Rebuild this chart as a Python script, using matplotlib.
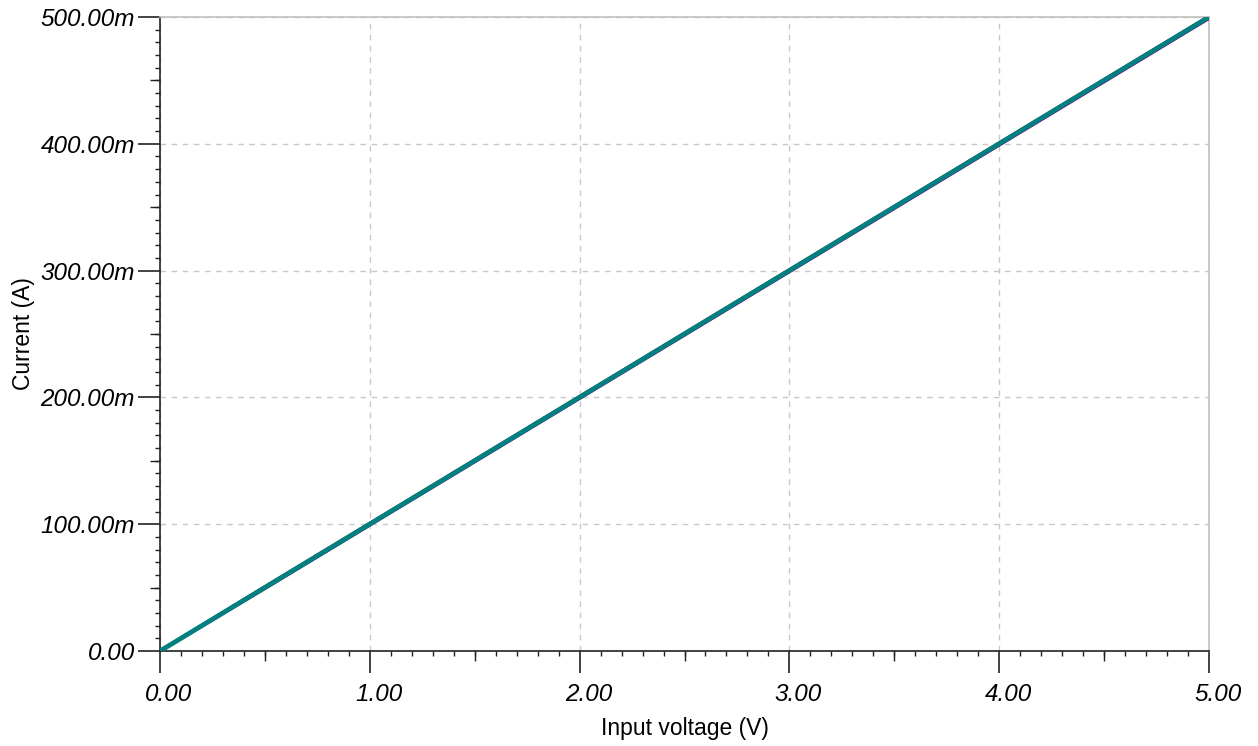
import matplotlib
matplotlib.use("Agg")
import matplotlib.pyplot as plt
from matplotlib.ticker import MultipleLocator, FuncFormatter, FixedLocator
from matplotlib.transforms import ScaledTranslation

# Data (input voltage in V, current in A)
voltage = [0.0, 0.5, 1.0, 1.5, 2.0, 2.5, 3.0, 3.5, 4.0, 4.5, 5.0]
current_red = [0.0, 0.0506, 0.1006, 0.1506, 0.2006, 0.2506, 0.3006, 0.3506, 0.4006, 0.4506, 0.5005]
current_olive = [0.0, 0.0497, 0.0997, 0.1497, 0.1997, 0.2497, 0.2996, 0.3496, 0.3996, 0.4496, 0.4995]
current_purple = [0.0, 0.0495, 0.0995, 0.1494, 0.1994, 0.2493, 0.2993, 0.3492, 0.3992, 0.4491, 0.4991]
current_teal = [0.0, 0.0501, 0.1001, 0.1501, 0.2001, 0.2501, 0.3001, 0.3501, 0.4001, 0.4501, 0.5000]

x_ticks = [0, 1, 2, 3, 4, 5]
y_ticks = [0.0, 0.1, 0.2, 0.3, 0.4, 0.5]

plt.rcParams['font.family'] = ['Liberation Sans', 'DejaVu Sans']

fig = plt.figure(figsize=(12.58, 7.46), dpi=100)
W, H = 1258, 746
left, right, top, bottom = 160, 1209, 17, 651
ax = fig.add_axes([left / W, 1 - bottom / H, (right - left) / W, (bottom - top) / H])

ax.plot(voltage, current_red, color='#8b0000', lw=2.4, solid_capstyle='round', zorder=3)
ax.plot(voltage, current_olive, color='#6b8e23', lw=2.4, solid_capstyle='round', zorder=3)
ax.plot(voltage, current_purple, color='#800080', lw=2.6, solid_capstyle='round', zorder=4)
ax.plot(voltage, current_teal, color='#008080', lw=3.4, solid_capstyle='round', zorder=5)

ax.set_xlim(0, 5)
ax.set_ylim(0, 0.5)

ax.xaxis.set_major_locator(FixedLocator(x_ticks))
ax.yaxis.set_major_locator(FixedLocator(y_ticks))
ax.xaxis.set_minor_locator(MultipleLocator(0.1))
ax.yaxis.set_minor_locator(MultipleLocator(0.01))

ax.xaxis.set_major_formatter(FuncFormatter(lambda v, p: f"{v:.2f}"))
ax.yaxis.set_major_formatter(FuncFormatter(lambda v, p: "0.00" if abs(v) < 1e-12 else f"{v*1000:.2f}m"))

px = 72 / 100
ax.tick_params(axis='both', which='major', direction='out', length=22 * px, width=1.2,
               color='#222222', labelsize=17.5)
ax.tick_params(axis='x', which='major', pad=10 * px)
ax.tick_params(axis='y', which='major', pad=3 * px)
ax.tick_params(axis='both', which='minor', direction='out', length=5 * px, width=1.0,
               color='#222222')
shift = ScaledTranslation(9 / 100, 0, fig.dpi_scale_trans)
for lab in ax.get_xticklabels():
    lab.set_fontstyle('italic')
    lab.set_transform(lab.get_transform() + shift)
for lab in ax.get_yticklabels():
    lab.set_fontstyle('italic')

# mid ticks (half-major) longer
secx = ax.secondary_xaxis('bottom')
secx.set_xticks([0.5, 1.5, 2.5, 3.5, 4.5])
secx.set_xticklabels([])
secx.tick_params(direction='out', length=10 * px, width=1.0, color='#222222')
secx.spines['bottom'].set_visible(False)
secy = ax.secondary_yaxis('left')
secy.set_yticks([0.05, 0.15, 0.25, 0.35, 0.45])
secy.set_yticklabels([])
secy.tick_params(direction='out', length=10 * px, width=1.0, color='#222222')
secy.spines['left'].set_visible(False)

ax.grid(True, which='major', color='#c8c8c8', linestyle=(0, (4, 4)), linewidth=1.0)
ax.set_axisbelow(True)

for s in ['top', 'right']:
    ax.spines[s].set_color('#c0c0c0')
    ax.spines[s].set_linewidth(1.2)
for s in ['left', 'bottom']:
    ax.spines[s].set_color('#222222')
    ax.spines[s].set_linewidth(1.2)

ax.set_xlabel('Input voltage (V)', fontsize=16.5, labelpad=8)
ax.set_ylabel('Current (A)', fontsize=16.5, labelpad=4)

fig.savefig('out.png', dpi=100)
